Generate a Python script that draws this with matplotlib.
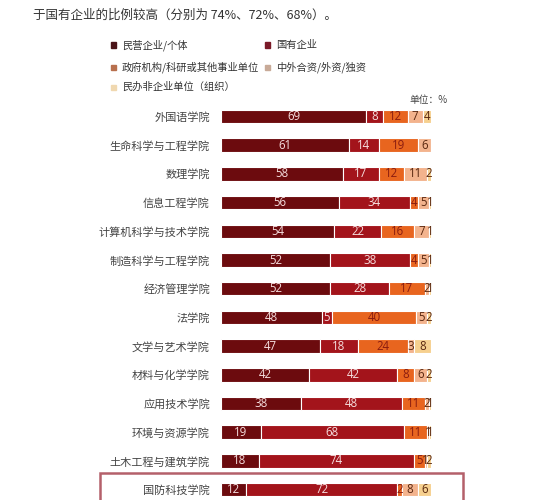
import matplotlib
matplotlib.use("Agg")
import matplotlib.pyplot as plt
from matplotlib.patches import Rectangle
import numpy as np

plt.rcParams['font.family'] = ['Noto Sans CJK SC', 'DejaVu Sans']

categories = ["外国语学院", "生命科学与工程学院", "数理学院", "信息工程学院",
              "计算机科学与技术学院", "制造科学与工程学院", "经济管理学院", "法学院",
              "文学与艺术学院", "材料与化学学院", "应用技术学院", "环境与资源学院",
              "土木工程与建筑学院", "国防科技学院"]
series_names = ["民营企业/个体", "国有企业", "政府机构/科研或其他事业单位",
                "中外合资/外资/独资", "民办非企业单位（组织）"]
private = [69, 61, 58, 56, 54, 52, 52, 48, 47, 42, 38, 19, 18, 12]
state = [8, 14, 17, 34, 22, 38, 28, 5, 18, 42, 48, 68, 74, 72]
gov = [12, 19, 12, 4, 16, 4, 17, 40, 24, 8, 11, 11, 5, 2]
foreign = [7, 6, 11, 5, 7, 5, 2, 5, 3, 6, 2, 1, 1, 8]
nonprofit = [4, 0, 2, 1, 1, 1, 1, 2, 8, 2, 1, 1, 2, 6]
series = [private, state, gov, foreign, nonprofit]

colors = ["#6c0b0e", "#a3141b", "#e8651f", "#f3b38d", "#f6d08f"]
text_colors = ["#f6dede", "#f6dede", "#8a1c10", "#5a2810", "#5a2810"]
legend_colors = ["#4a1418", "#7a1a28", "#b8704e", "#c8aa98", "#f0d8b0"]

W, H = 551, 500
fig = plt.figure(figsize=(W / 100, H / 100), dpi=100)
fig.patch.set_facecolor("white")

# axes placement in pixels
x0, x1 = 221, 431
ytop, ybot = 102, 500
ax = fig.add_axes([x0 / W, 1 - ybot / H, (x1 - x0) / W, (ybot - ytop) / H])
row0, step = 116.5, 28.7
ax.set_ylim((ybot - row0) / step, (ytop - row0) / step)
ax.set_xlim(0, 100)

n = len(categories)
ypos = np.arange(n)
left = np.zeros(n)
for vals, c, tc in zip(series, colors, text_colors):
    vals = np.array(vals, dtype=float)
    ax.barh(ypos, vals, left=left, height=0.47, color=c, edgecolor="white", linewidth=0.8)
    for i, v in enumerate(vals):
        if v > 0:
            ax.text(left[i] + v / 2, ypos[i], f"{int(v)}", ha="center", va="center",
                    fontsize=8.3, color=tc, family=["Open Sans", "DejaVu Sans"])
    left += vals

ax.set_yticks(ypos)
ax.set_yticklabels(categories, fontsize=8, color="#444444")
ax.tick_params(axis="y", length=0, pad=8)
ax.set_xticks([])
for s in ax.spines.values():
    s.set_visible(False)

# header text
fig.text(33 / W, 1 - 15 / H, "于国有企业的比例较高（分别为 74%、72%、68%）。",
         fontsize=9, color="#333333", ha="left", va="center")

# legend
legend_pos = [(113, 45), (267, 45), (113, 67), (267, 67), (113, 87)]
for (lx, ly), name, lc in zip(legend_pos, series_names, legend_colors):
    fig.add_artist(Rectangle(((lx - 2.5) / W, 1 - (ly + 2.5) / H), 5 / W, 5 / H,
                             transform=fig.transFigure, color=lc))
    fig.text((lx + 9) / W, 1 - ly / H, name, fontsize=7.4, color="#333333",
             ha="left", va="center")

fig.text(448 / W, 1 - 100 / H, "单位：%", fontsize=7, color="#444444",
         ha="right", va="center")

# highlight box
fig.add_artist(Rectangle((100 / W, -0.02), (463 - 100) / W, 0.02 + (500 - 473) / H,
                         transform=fig.transFigure, fill=False,
                         edgecolor="#b4606a", linewidth=1.8))

fig.savefig("out.png", dpi=100, facecolor="white")
